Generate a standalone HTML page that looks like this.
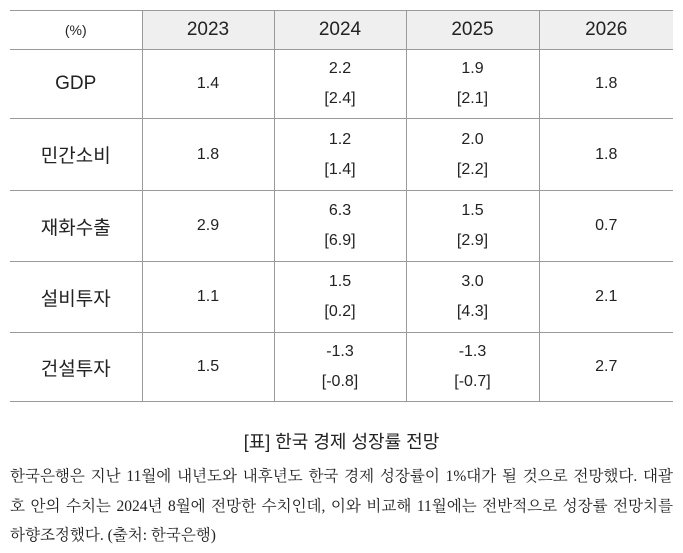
<!DOCTYPE html>
<html><head><meta charset="utf-8"><style>
html,body{margin:0;padding:0;background:#fff;width:683px;height:553px;overflow:hidden}
body{font-family:"Liberation Sans","Noto Sans CJK KR",sans-serif;color:#222}
table{position:absolute;left:10px;top:10px;border-collapse:collapse;width:663px;table-layout:fixed}
td{border:1px solid #9a9a9a;text-align:center;padding:0;font-size:16px}
tr td:first-child{border-left:none}
tr td:last-child{border-right:none}
tr.h td{height:38px;background:#eeefee;font-size:19px}
tr.h td:first-child{background:#fff;font-size:14px}
td.l{font-size:19px}
.two{line-height:30px}
#cap{position:absolute;left:0;width:683px;top:428px;text-align:center;font-size:18px}
#body{position:absolute;left:10px;width:663px;top:462px;font-family:"Liberation Serif","Noto Serif CJK KR",serif;font-size:15.5px;line-height:29.5px;color:#222}
#body div{text-align:justify;text-align-last:justify;white-space:nowrap}
#body div.last{text-align-last:left}
</style></head><body>
<table>
<colgroup><col style="width:132px"><col style="width:132px"><col style="width:132px"><col style="width:133px"><col style="width:134px"></colgroup>
<tr class="h"><td>(%)</td><td>2023</td><td>2024</td><td>2025</td><td>2026</td></tr>
<tr style="height:69px"><td class="l">GDP</td><td>1.4</td><td class="two">2.2<br>[2.4]</td><td class="two">1.9<br>[2.1]</td><td>1.8</td></tr>
<tr style="height:72px"><td class="l">민간소비</td><td>1.8</td><td class="two">1.2<br>[1.4]</td><td class="two">2.0<br>[2.2]</td><td>1.8</td></tr>
<tr style="height:71px"><td class="l">재화수출</td><td>2.9</td><td class="two">6.3<br>[6.9]</td><td class="two">1.5<br>[2.9]</td><td>0.7</td></tr>
<tr style="height:71px"><td class="l">설비투자</td><td>1.1</td><td class="two">1.5<br>[0.2]</td><td class="two">3.0<br>[4.3]</td><td>2.1</td></tr>
<tr style="height:69px"><td class="l">건설투자</td><td>1.5</td><td class="two">-1.3<br>[-0.8]</td><td class="two">-1.3<br>[-0.7]</td><td>2.7</td></tr>
</table>
<div id="cap">[표] 한국 경제 성장률 전망</div>
<div id="body">
<div>한국은행은 지난 11월에 내년도와 내후년도 한국 경제 성장률이 1%대가 될 것으로 전망했다. 대괄</div>
<div>호 안의 수치는 2024년 8월에 전망한 수치인데, 이와 비교해 11월에는 전반적으로 성장률 전망치를</div>
<div class="last">하향조정했다. (출처: 한국은행)</div>
</div>
</body></html>
